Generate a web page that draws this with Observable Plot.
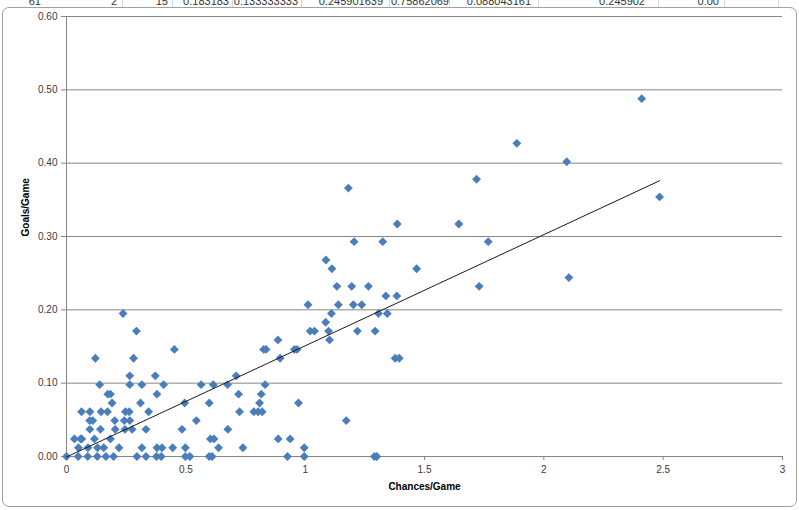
<!DOCTYPE html>
<html><head><meta charset="utf-8">
<script src="https://cdn.jsdelivr.net/npm/d3@7"></script>
<script src="https://cdn.jsdelivr.net/npm/@observablehq/plot@0.6"></script>
<style>
html,body{margin:0;padding:0;background:#fff;}
#wrap{position:relative;width:799px;height:510px;overflow:hidden;font-family:"Liberation Sans",Arial,sans-serif;}
#strip{position:absolute;left:0;top:0;width:799px;height:7px;overflow:hidden;}
#strip span{position:absolute;top:-4px;font-size:11px;line-height:11px;color:#333;white-space:nowrap;}
#strip i{position:absolute;top:0;width:1px;height:7px;background:#d0d7e5;}
#frame{position:absolute;left:2px;top:7px;width:793px;height:498px;border:1px solid #a0a0a0;border-radius:7px;background:#fff;}
#chart{position:absolute;left:0;top:0;}
</style>
</head><body>
<div id="wrap">
  <div id="strip"></div>
  <div id="frame"></div>
  <div id="chart"></div>
</div>
<script>
// spreadsheet row peeking above the chart
const stripTexts = ["61","2","15","0.183183","0.133333333","0.245901639","0.75862069","0.088043161","0.245902","0.00"];
const stripRightEdges = [41,117,168,229,298,383,449,531,645,719];
const stripCellBorders = [122,172,232,301,389,449,538,658,724,778];

// scatter data: chances per game (x) and goals per game (y)
const chancesPerGame = [
  0,0.049,0.089,0.129,0.165,0.197,0.295,0.333,0.377,0.397,0.498,0.517,0.598,0.610,0.926,0.996,1.290,1.300,
  0.05,0.09,0.13,0.156,0.22,0.316,0.379,0.400,0.445,0.498,0.637,0.739,0.996,
  0.033,0.059,0.064,0.117,0.184,0.603,0.618,0.887,0.937,
  0.098,0.142,0.204,0.245,0.275,0.333,0.484,0.676,
  0.097,0.11,0.202,0.242,0.265,0.544,1.172,
  0.063,0.098,0.145,0.172,0.247,0.263,0.344,0.725,0.785,0.803,0.820,
  0.191,0.310,0.495,0.598,0.809,0.972,
  0.173,0.184,0.379,0.721,0.816,
  0.139,0.265,0.316,0.407,0.564,0.615,0.675,0.832,
  0.265,0.372,0.711,
  0.121,0.281,0.895,1.377,1.394,
  0.452,0.826,0.836,0.955,0.966,
  0.886,1.102,
  0.293,1.021,1.039,1.098,1.219,1.293,
  1.086,
  0.237,1.110,1.307,1.344,
  1.012,1.139,1.202,1.237,
  1.338,1.384,
  1.133,1.195,1.265,1.729,
  2.105,
  1.112,1.467,
  1.087,
  1.205,1.325,1.767,
  1.386,1.644,
  2.485,
  1.181,
  1.718,
  2.096,
  1.887,
  2.41
];
const goalsPerGame = [
  0,0,0,0,0,0,0,0,0,0,0,0,0,0,0,0,0,0,
  0.012,0.012,0.012,0.012,0.012,0.012,0.012,0.012,0.012,0.012,0.012,0.012,0.012,
  0.024,0.024,0.024,0.024,0.024,0.024,0.024,0.024,0.024,
  0.037,0.037,0.037,0.037,0.037,0.037,0.037,0.037,
  0.049,0.049,0.049,0.049,0.049,0.049,0.049,
  0.061,0.061,0.061,0.061,0.061,0.061,0.061,0.061,0.061,0.061,0.061,
  0.073,0.073,0.073,0.073,0.073,0.073,
  0.085,0.085,0.085,0.085,0.085,
  0.098,0.098,0.098,0.098,0.098,0.098,0.098,0.098,
  0.110,0.110,0.110,
  0.134,0.134,0.134,0.134,0.134,
  0.146,0.146,0.146,0.146,0.146,
  0.159,0.159,
  0.171,0.171,0.171,0.171,0.171,0.171,
  0.183,
  0.195,0.195,0.195,0.195,
  0.207,0.207,0.207,0.207,
  0.219,0.219,
  0.232,0.232,0.232,0.232,
  0.244,
  0.256,0.256,
  0.268,
  0.293,0.293,0.293,
  0.317,0.317,
  0.354,
  0.366,
  0.378,
  0.402,
  0.427,
  0.488
];
const xTicks = [0,0.5,1,1.5,2,2.5,3];
const yTicks = [0,0.1,0.2,0.3,0.4,0.5,0.6];
const xTitle = "Chances/Game";
const yTitle = "Goals/Game";

const strip = document.getElementById("strip");
stripCellBorders.forEach(x => {
  const i = document.createElement("i"); i.style.left = x + "px"; strip.appendChild(i);
});
stripTexts.forEach((t, k) => {
  const s = document.createElement("span");
  s.textContent = t; s.style.right = (799 - stripRightEdges[k]) + "px";
  strip.appendChild(s);
});

const data = chancesPerGame.map((c, i) => ({c, g: goalsPerGame[i]}));
const gray = "#868686";

const chart = Plot.plot({
  width: 799, height: 510,
  marginLeft: 66, marginRight: 17, marginTop: 16, marginBottom: 54,
  x: {domain: [0, 3]},
  y: {domain: [0, 0.6]},
  style: {background: "transparent", fontFamily: "'Liberation Sans', Arial, sans-serif", fontSize: "10px", color: "#3a3a3a", overflow: "visible"},
  marks: [
    Plot.gridY(yTicks, {stroke: gray, strokeOpacity: 1}),
    Plot.ruleX([0], {stroke: gray}),
    Plot.axisY(yTicks, {tickFormat: d3.format(".2f"), tickSize: 5, tickPadding: 4, stroke: gray, label: null}),
    Plot.axisX(xTicks, {tickFormat: d => String(d), tickSize: 4, tickPadding: 5, stroke: gray, label: null}),
    Plot.ruleY([0], {stroke: gray}),
    Plot.dot(data, {x: "c", y: "g", symbol: "diamond2", r: 4, fill: "#4a7ebb"}),
    Plot.linearRegressionY(data, {x: "c", y: "g", stroke: "#1a1a1a", strokeWidth: 1, ci: 0}),
    Plot.text([yTitle], {frameAnchor: "left", rotate: -90, dx: -41, fontWeight: "bold", fontSize: 10, fill: "#000"}),
    Plot.text([xTitle], {frameAnchor: "bottom", dy: 33, fontWeight: "bold", fontSize: 10, fill: "#000"})
  ]
});
document.getElementById("chart").appendChild(chart);
</script>
</body></html>
